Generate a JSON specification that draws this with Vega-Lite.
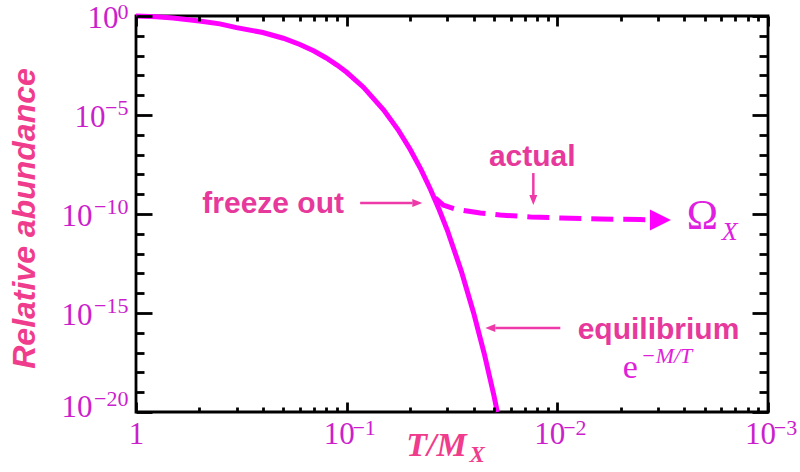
{
  "$schema": "https://vega.github.io/schema/vega-lite/v6.json",
  "autosize": {"type": "none"},
  "padding": {"left": 136, "top": 16, "right": 32, "bottom": 60},
  "width": 632,
  "height": 396,
  "background": "white",
  "config": {
    "view": {"stroke": "black", "strokeWidth": 2.8}
  },
  "datasets": {
    "eq": [
      {"t": 1, "y": 1},
      {"t": 0.8, "y": 0.92},
      {"t": 0.6667, "y": 0.8},
      {"t": 0.5, "y": 0.56},
      {"t": 0.4, "y": 0.4},
      {"t": 0.3333, "y": 0.26},
      {"t": 0.25, "y": 0.147},
      {"t": 0.2, "y": 0.0753},
      {"t": 0.1667, "y": 0.0364},
      {"t": 0.1429, "y": 0.0169},
      {"t": 0.125, "y": 0.0076},
      {"t": 0.1111, "y": 0.00333},
      {"t": 0.1, "y": 0.00144},
      {"t": 0.0833, "y": 0.000255},
      {"t": 0.0667, "y": 1.78e-5},
      {"t": 0.0571, "y": 1.84e-6},
      {"t": 0.05, "y": 1.85e-7},
      {"t": 0.0444, "y": 1.8e-8},
      {"t": 0.04, "y": 1.74e-9},
      {"t": 0.03636, "y": 1.64e-10},
      {"t": 0.0333, "y": 1.55e-11},
      {"t": 0.02857, "y": 1.31e-13},
      {"t": 0.025, "y": 1.07e-15},
      {"t": 0.02222, "y": 8.7e-18},
      {"t": 0.02, "y": 6.8e-20},
      {"t": 0.01927, "y": 1e-20}
    ],
    "actual": [
      {"t": 0.038, "y": 6.5e-10},
      {"t": 0.0348, "y": 2.8e-10},
      {"t": 0.0305, "y": 1.78e-10},
      {"t": 0.0268, "y": 1.41e-10},
      {"t": 0.0232, "y": 1.12e-10},
      {"t": 0.0187, "y": 8.9e-11},
      {"t": 0.01343, "y": 7.1e-11},
      {"t": 0.00968, "y": 6.3e-11},
      {"t": 0.00625, "y": 5.6e-11},
      {"t": 0.00404, "y": 5.2e-11},
      {"t": 0.0034, "y": 5.1e-11}
    ],
    "bighead": [{"t": 0.00324, "y": 5.0e-11}],
    "shafts": [
      {"t": 0.0863, "t2": 0.0487, "y": 3.63e-10, "y2": 3.63e-10},
      {"t": 0.013, "t2": 0.013, "y": 1.17e-8, "y2": 7.2e-10},
      {"t": 0.00968, "t2": 0.0197, "y": 1.74e-16, "y2": 1.74e-16}
    ],
    "heads": [
      {"t": 0.0462, "y": 3.63e-10, "dir": "right"},
      {"t": 0.013, "y": 5.1e-10, "dir": "down"},
      {"t": 0.0208, "y": 1.74e-16, "dir": "left"}
    ],
    "notes": [
      {"t": 0.2234, "y": 3.2e-10, "label": "freeze out"},
      {"t": 0.01315, "y": 7.6e-8, "label": "actual"},
      {"t": 0.00331, "y": 1.45e-16, "label": "equilibrium"}
    ],
    "omega": [{"t": 0.00205, "y": 7.9e-11, "label": "Ω"}],
    "omegasub": [{"t": 0.00152, "y": 1.23e-11, "label": "X"}],
    "e": [{"t": 0.0045, "y": 1.66e-18, "label": "e"}],
    "esup": [{"t": 0.00303, "y": 7.0e-18, "label": "−M/T"}],
    "titlesub": [{"t": 0.02399, "y": 6.8e-23, "label": "X"}]
  },
  "layer": [
    {
      "data": {"name": "eq"},
      "mark": {"type": "line", "color": "#ff00ff", "strokeWidth": 5},
      "encoding": {
        "x": {"field": "t", "type": "quantitative",
          "scale": {"type": "log", "domain": [0.001, 1], "reverse": true, "nice": false},
          "axis": {"orient": "bottom", "domain": false, "grid": false, "zindex": 1,
            "values": [1, 0.1, 0.01, 0.001, 0.5, 0.3333333, 0.25, 0.2, 0.1666667, 0.1428571, 0.125, 0.1111111, 0.05, 0.0333333, 0.025, 0.02, 0.0166667, 0.0142857, 0.0125, 0.0111111, 0.005, 0.0033333, 0.0025, 0.002, 0.0016667, 0.0014286, 0.00125, 0.0011111],
            "tickColor": "#000000", "tickWidth": 2.8, "tickOpacity": 1,
            "tickSize": {"condition": {"test": "abs(log(datum.value)/LN10 - round(log(datum.value)/LN10)) < 0.001", "value": -10}, "value": -5},
            "labelExpr": "abs(log(datum.value)/LN10 - round(log(datum.value)/LN10)) < 0.001 ? (datum.value > 0.5 ? '1' : '10') : ''",
            "labelFont": "Liberation Serif", "labelColor": "#cc1fcc", "labelFlush": false, "labelOverlap": false,
            "labelFontSize": 31, "labelBaseline": "top", "labelAlign": "center",
            "labelPadding": {"condition": {"test": "abs(log(datum.value)/LN10 - round(log(datum.value)/LN10)) < 0.001", "value": 17.5}, "value": 12.5},
            "labelOffset": {"condition": {"test": "datum.value > 0.5", "value": 0}, "value": -8},
            "title": "T/M", "titleFont": "Liberation Serif", "titleFontSize": 34, "titleFontStyle": "italic", "titleFontWeight": "bold",
            "titleColor": "#f03c8c", "titleX": 300, "titleY": 43, "titleBaseline": "alphabetic", "titleAlign": "center"}},
        "y": {"field": "y", "type": "quantitative",
          "scale": {"type": "log", "domain": [1e-20, 1], "nice": false},
          "axis": {"orient": "left", "domain": false, "grid": false, "zindex": 1,
            "values": [1, 1e-5, 1e-10, 1e-15, 1e-20, 0.1, 0.01, 0.001, 0.0001, 1e-6, 1e-7, 1e-8, 1e-9, 1e-11, 1e-12, 1e-13, 1e-14, 1e-16, 1e-17, 1e-18, 1e-19],
            "tickColor": "#000000", "tickWidth": 2.8, "tickOpacity": 1,
            "tickSize": {"condition": {"test": "round(log(datum.value)/LN10) % 5 == 0", "value": -16}, "value": -8},
            "labelExpr": "round(log(datum.value)/LN10) % 5 == 0 ? '10' : ''",
            "labelFont": "Liberation Serif", "labelColor": "#cc1fcc", "labelFlush": false, "labelOverlap": false,
            "labelFontSize": 31, "labelAlign": "right", "labelBaseline": "middle",
            "labelPadding": {"condition": [{"test": "datum.value >= 0.1", "value": 34}, {"test": "datum.value >= 1e-6", "value": 47}], "value": 60},
            "labelOffset": {"condition": {"test": "datum.value < 1e-19", "value": -5}, "value": 2},
            "title": "Relative abundance", "titleFont": "Liberation Sans", "titleFontSize": 32, "titleFontStyle": "italic", "titleFontWeight": "bold",
            "titleColor": "#f03c8c", "titleX": -112, "titleY": 202, "titleBaseline": "middle", "titleAlign": "center", "titleAngle": -90}}
      }
    },
    {
      "data": {"name": "actual"},
      "mark": {"type": "line", "color": "#ff00ff", "strokeWidth": 5, "strokeDash": [22, 10]},
      "encoding": {
        "x": {"field": "t", "type": "quantitative", "scale": {"type": "log", "domain": [0.001, 1], "reverse": true, "nice": false},
          "axis": {"orient": "top", "domain": false, "grid": false, "labels": false, "title": null, "zindex": 1,
            "values": [1, 0.1, 0.01, 0.001, 0.5, 0.3333333, 0.25, 0.2, 0.1666667, 0.1428571, 0.125, 0.1111111, 0.05, 0.0333333, 0.025, 0.02, 0.0166667, 0.0142857, 0.0125, 0.0111111, 0.005, 0.0033333, 0.0025, 0.002, 0.0016667, 0.0014286, 0.00125, 0.0011111],
            "tickColor": "#000000", "tickWidth": 2.8, "tickOpacity": 1,
            "tickSize": {"condition": {"test": "abs(log(datum.value)/LN10 - round(log(datum.value)/LN10)) < 0.001", "value": -10}, "value": -5}}},
        "y": {"field": "y", "type": "quantitative", "scale": {"type": "log", "domain": [1e-20, 1], "nice": false},
          "axis": {"orient": "right", "domain": false, "grid": false, "labels": false, "title": null, "zindex": 1,
            "values": [1, 1e-5, 1e-10, 1e-15, 1e-20, 0.1, 0.01, 0.001, 0.0001, 1e-6, 1e-7, 1e-8, 1e-9, 1e-11, 1e-12, 1e-13, 1e-14, 1e-16, 1e-17, 1e-18, 1e-19],
            "tickColor": "#000000", "tickWidth": 2.8, "tickOpacity": 1,
            "tickSize": {"condition": {"test": "round(log(datum.value)/LN10) % 5 == 0", "value": -16}, "value": -9}}}
      }
    },
    {
      "data": {"name": "bighead"},
      "mark": {"type": "point", "shape": "M-1,-1L1,0L-1,1Z", "size": 441, "filled": true, "color": "#ff00ff", "opacity": 1},
      "encoding": {
        "x": {"field": "t", "type": "quantitative", "scale": {"type": "log", "domain": [0.001, 1], "reverse": true, "nice": false},
          "axis": {"orient": "bottom", "domain": false, "grid": false, "values": [0.1, 0.01, 0.001], "tickSize": 0, "tickOpacity": 0, "title": null,
            "labelExpr": "datum.value >= 0.05 ? '−1' : datum.value >= 0.005 ? '−2' : '−3'",
            "labelFont": "Liberation Serif", "labelColor": "#cc1fcc", "labelFlush": false, "labelOverlap": false,
            "labelFontSize": 22, "labelPadding": 5.5, "labelBaseline": "top", "labelAlign": "center", "labelOffset": 17}},
        "y": {"field": "y", "type": "quantitative", "scale": {"type": "log", "domain": [1e-20, 1], "nice": false},
          "axis": {"orient": "left", "domain": false, "grid": false, "values": [1, 1e-5, 1e-10, 1e-15, 1e-20], "tickSize": 0, "tickOpacity": 0, "title": null,
            "labelExpr": "datum.value >= 0.1 ? '0' : datum.value >= 1e-6 ? '−5' : datum.value >= 1e-11 ? '−10' : datum.value >= 1e-16 ? '−15' : '−20'",
            "labelFont": "Liberation Serif", "labelColor": "#cc1fcc", "labelFlush": false, "labelOverlap": false,
            "labelFontSize": 22, "labelAlign": "right", "labelBaseline": "middle", "labelPadding": 8,
            "labelOffset": {"condition": [{"test": "datum.value < 1e-19", "value": -14}, {"test": "datum.value > 0.1", "value": -5}], "value": -8}}}
      }
    },
    {
      "data": {"name": "shafts"},
      "mark": {"type": "rule", "color": "#ee3aa8", "strokeWidth": 2.5},
      "encoding": {
        "x": {"field": "t", "type": "quantitative", "scale": {"type": "log", "domain": [0.001, 1], "reverse": true, "nice": false}, "axis": null},
        "x2": {"field": "t2"},
        "y": {"field": "y", "type": "quantitative", "scale": {"type": "log", "domain": [1e-20, 1], "nice": false}, "axis": null},
        "y2": {"field": "y2"}
      }
    },
    {
      "data": {"name": "heads"},
      "mark": {"type": "point", "size": 100, "filled": true, "color": "#ee3aa8", "opacity": 1},
      "encoding": {
        "x": {"field": "t", "type": "quantitative", "scale": {"type": "log", "domain": [0.001, 1], "reverse": true, "nice": false}, "axis": null},
        "y": {"field": "y", "type": "quantitative", "scale": {"type": "log", "domain": [1e-20, 1], "nice": false}, "axis": null},
        "shape": {"field": "dir", "type": "nominal", "legend": null,
          "scale": {"domain": ["right", "left", "down"], "range": ["M-1,-0.8L1,0L-1,0.8Z", "M1,-0.8L-1,0L1,0.8Z", "M-0.8,-1L0,1L0.8,-1Z"]}}
      }
    },
    {
      "data": {"name": "notes"},
      "mark": {"type": "text", "font": "Liberation Sans", "fontWeight": "bold", "fontSize": 30, "color": "#e6399b", "align": "center", "baseline": "middle"},
      "encoding": {
        "x": {"field": "t", "type": "quantitative", "scale": {"type": "log", "domain": [0.001, 1], "reverse": true, "nice": false}, "axis": null},
        "y": {"field": "y", "type": "quantitative", "scale": {"type": "log", "domain": [1e-20, 1], "nice": false}, "axis": null},
        "text": {"field": "label"}
      }
    },
    {
      "data": {"name": "omega"},
      "mark": {"type": "text", "font": "Liberation Serif", "fontSize": 42, "color": "#e020e0", "align": "center", "baseline": "middle"},
      "encoding": {
        "x": {"field": "t", "type": "quantitative", "scale": {"type": "log", "domain": [0.001, 1], "reverse": true, "nice": false}, "axis": null},
        "y": {"field": "y", "type": "quantitative", "scale": {"type": "log", "domain": [1e-20, 1], "nice": false}, "axis": null},
        "text": {"field": "label"}
      }
    },
    {
      "data": {"name": "omegasub"},
      "mark": {"type": "text", "font": "Liberation Serif", "fontSize": 26, "fontStyle": "italic", "color": "#e020e0", "align": "center", "baseline": "middle"},
      "encoding": {
        "x": {"field": "t", "type": "quantitative", "scale": {"type": "log", "domain": [0.001, 1], "reverse": true, "nice": false}, "axis": null},
        "y": {"field": "y", "type": "quantitative", "scale": {"type": "log", "domain": [1e-20, 1], "nice": false}, "axis": null},
        "text": {"field": "label"}
      }
    },
    {
      "data": {"name": "e"},
      "mark": {"type": "text", "font": "Liberation Serif", "fontSize": 34, "color": "#e020d8", "align": "center", "baseline": "middle"},
      "encoding": {
        "x": {"field": "t", "type": "quantitative", "scale": {"type": "log", "domain": [0.001, 1], "reverse": true, "nice": false}, "axis": null},
        "y": {"field": "y", "type": "quantitative", "scale": {"type": "log", "domain": [1e-20, 1], "nice": false}, "axis": null},
        "text": {"field": "label"}
      }
    },
    {
      "data": {"name": "esup"},
      "mark": {"type": "text", "font": "Liberation Serif", "fontSize": 22, "fontStyle": "italic", "color": "#e020d8", "align": "center", "baseline": "middle"},
      "encoding": {
        "x": {"field": "t", "type": "quantitative", "scale": {"type": "log", "domain": [0.001, 1], "reverse": true, "nice": false}, "axis": null},
        "y": {"field": "y", "type": "quantitative", "scale": {"type": "log", "domain": [1e-20, 1], "nice": false}, "axis": null},
        "text": {"field": "label"}
      }
    },
    {
      "data": {"name": "titlesub"},
      "mark": {"type": "text", "font": "Liberation Serif", "fontSize": 23, "fontStyle": "italic", "fontWeight": "bold", "color": "#f03c8c", "align": "center", "baseline": "middle"},
      "encoding": {
        "x": {"field": "t", "type": "quantitative", "scale": {"type": "log", "domain": [0.001, 1], "reverse": true, "nice": false}, "axis": null},
        "y": {"field": "y", "type": "quantitative", "scale": {"type": "log", "domain": [1e-20, 1], "nice": false}, "axis": null},
        "text": {"field": "label"}
      }
    }
  ],
  "resolve": {"axis": {"x": "independent", "y": "independent"}}
}
